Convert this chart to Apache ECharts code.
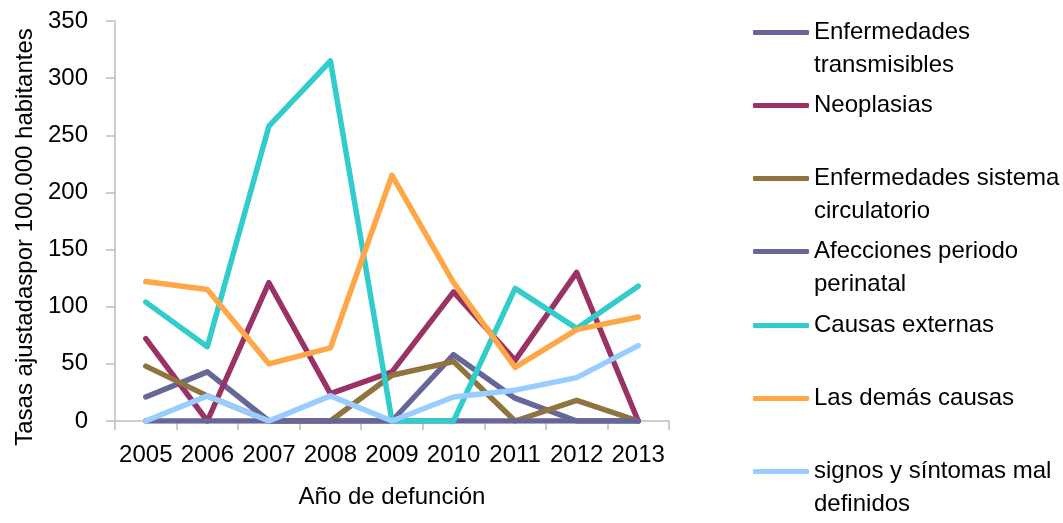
<!DOCTYPE html>
<html>
<head>
<meta charset="utf-8">
<script src="https://cdn.jsdelivr.net/npm/echarts@6/dist/echarts.min.js"></script>
<style>
html,body{margin:0;padding:0;background:#fff;}
#chart{width:1063px;height:523px;}
</style>
</head>
<body>
<div id="chart"></div>
<script>
const years = ['2005','2006','2007','2008','2009','2010','2011','2012','2013'];
const seriesNames = [
  'Enfermedades transmisibles',
  'Neoplasias',
  'Enfermedades sistema circulatorio',
  'Afecciones periodo perinatal',
  'Causas externas',
  'Las demás causas',
  'signos y síntomas mal definidos'
];
const legendLabels = [
  'Enfermedades\ntransmisibles',
  'Neoplasias',
  'Enfermedades sistema\ncirculatorio',
  'Afecciones periodo\nperinatal',
  'Causas externas',
  'Las demás causas',
  'signos y síntomas mal\ndefinidos'
];
const transmisibles = [21, 43, 0, 0, 0, 58, 20, 0, 0];
const neoplasias = [72, 0, 121, 24, 43, 113, 53, 130, 0];
const circulatorio = [48, 22, 0, 0, 40, 52, 0, 18, 0];
const perinatal = [0, 0, 0, 0, 0, 0, 0, 0, 0];
const externas = [104, 65, 258, 315, 0, 0, 116, 81, 118];
const demas = [122, 115, 50, 64, 215, 121, 47, 80, 91];
const signos = [0, 22, 0, 22, 0, 21, 27, 38, 66];
const yTicks = [0, 50, 100, 150, 200, 250, 300, 350];

const colors = ['#666699', '#993366', '#8F7440', '#666699', '#33CCCC', '#FFA646', '#99CCFF'];
const dataSets = [transmisibles, neoplasias, circulatorio, perinatal, externas, demas, signos];

const FONT = "'Liberation Sans', Arial, sans-serif";
const FS = 24;
const LH = 33;

const chart = echarts.init(document.getElementById('chart'), null, {renderer: 'canvas'});

const legendCenter0 = 32; // center of first legend line
const legendStep = 73.3;
const legends = seriesNames.map((n, i) => {
  const multi = legendLabels[i].indexOf('\n') >= 0;
  const half = multi ? LH * 1.5 : LH * 0.5;
  return {
    data: [{name: n, icon: 'roundRect'}],
    left: 753,
    top: Math.round(legendCenter0 + i * legendStep - half),
    itemWidth: 56,
    itemHeight: 5,
    itemGap: 0,
    padding: 0,
    selectedMode: false,
    formatter: () => (multi ? '\n' : '') + legendLabels[i],
    textStyle: {
      fontFamily: FONT,
      fontSize: FS,
      color: '#000',
      lineHeight: LH
    }
  };
});

const option = {
  animation: false,
  backgroundColor: '#fff',
  textStyle: {fontFamily: FONT},
  grid: {left: 115, right: 394, top: 21, bottom: 102, containLabel: false, outerBoundsMode: 'none'},
  legend: legends,
  xAxis: {
    type: 'category',
    data: years,
    boundaryGap: true,
    name: 'Año de defunción',
    nameLocation: 'middle',
    nameGap: 64,
    nameTextStyle: {fontFamily: FONT, fontSize: FS, color: '#000'},
    axisLine: {lineStyle: {color: '#BFBFBF', width: 1.5}},
    axisTick: {show: true, length: 9, lineStyle: {color: '#BFBFBF', width: 1.5}, alignWithLabel: false},
    axisLabel: {fontFamily: FONT, fontSize: FS, color: '#000', margin: 22, interval: 0}
  },
  yAxis: {
    type: 'value',
    min: 0,
    max: 350,
    interval: 50,
    name: 'Tasas ajustadaspor 100.000 habitantes',
    nameLocation: 'middle',
    nameGap: 77,
    nameTextStyle: {fontFamily: FONT, fontSize: FS, color: '#000', padding: [0, 32, 0, 0]},
    axisLine: {show: true, lineStyle: {color: '#BFBFBF', width: 1.5}},
    axisTick: {show: true, length: 9, lineStyle: {color: '#BFBFBF', width: 1.5}},
    splitLine: {show: false},
    axisLabel: {fontFamily: FONT, fontSize: FS, color: '#000', margin: 27,
      formatter: v => (yTicks.indexOf(v) >= 0 ? String(v) : '')}
  },
  series: seriesNames.map((n, i) => ({
    name: n,
    type: 'line',
    data: dataSets[i],
    symbol: 'none',
    showSymbol: false,
    color: colors[i],
    lineStyle: {color: colors[i], width: 5.5, cap: 'round', join: 'round'},
    itemStyle: {color: colors[i]},
    emphasis: {disabled: true}
  }))
};
chart.setOption(option);
</script>
</body>
</html>
